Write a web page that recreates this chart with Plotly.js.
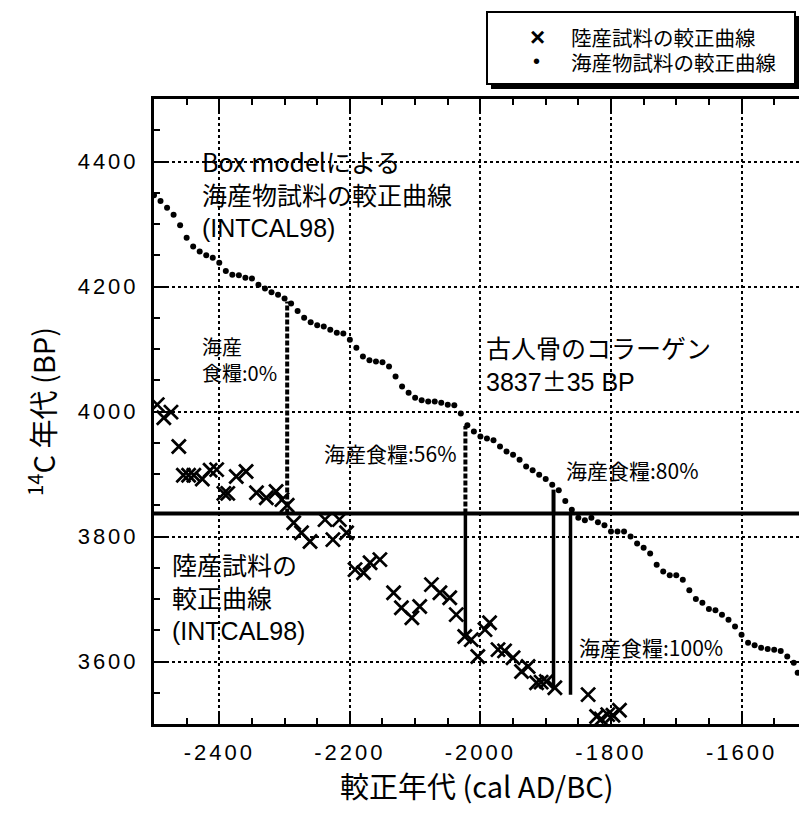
<!DOCTYPE html>
<html>
<head>
<meta charset="utf-8">
<script src="https://cdn.plot.ly/plotly-3.0.1.min.js"></script>
<style>
html,body{margin:0;padding:0;background:#fff;}
#chart{width:799px;height:821px;}
.xtick text,.ytick text{letter-spacing:3px;}
</style>
</head>
<body>
<div id="chart"></div>
<script>
// Marine calibration curve (Box model, INTCAL98) — calibrated year vs 14C age
const marineYear = [-2500,-2490,-2480,-2470,-2460,-2450,-2440,-2430,-2420,-2410,-2400,-2390,-2380,-2370,-2360,-2350,-2340,-2330,-2320,-2310,-2300,-2290,-2280,-2270,-2260,-2250,-2240,-2230,-2220,-2210,-2200,-2190,-2180,-2170,-2160,-2150,-2140,-2130,-2120,-2110,-2100,-2090,-2080,-2070,-2060,-2050,-2040,-2030,-2020,-2010,-2000,-1990,-1980,-1970,-1960,-1950,-1940,-1930,-1920,-1910,-1900,-1890,-1880,-1870,-1860,-1850,-1840,-1830,-1820,-1810,-1800,-1790,-1780,-1770,-1760,-1750,-1740,-1730,-1720,-1710,-1700,-1690,-1680,-1670,-1660,-1650,-1640,-1630,-1620,-1610,-1600,-1590,-1580,-1570,-1560,-1550,-1540,-1530,-1520,-1514];
const marineAge = [4346,4337,4326,4315,4298,4278,4264,4256,4250,4246,4238,4225,4219,4218,4214,4213,4203,4197,4191,4187,4181,4173,4161,4150,4143,4138,4136,4131,4126,4125,4115,4102,4088,4082,4080,4079,4072,4056,4040,4030,4022,4018,4016,4016,4014,4011,4010,3997,3978,3968,3960,3957,3954,3944,3936,3931,3923,3912,3906,3899,3892,3883,3874,3857,3843,3830,3826,3830,3823,3818,3808,3808,3808,3800,3789,3782,3773,3755,3744,3738,3738,3731,3714,3700,3694,3684,3682,3675,3667,3656,3643,3630,3626,3622,3620,3619,3617,3608,3598,3582];

// Terrestrial calibration curve (INTCAL98)
const terrYear = [-2495,-2485,-2474,-2462,-2455,-2447,-2439,-2426,-2414,-2404,-2393,-2387,-2374,-2359,-2343,-2328,-2313,-2304,-2296,-2286,-2274,-2261,-2238,-2226,-2216,-2205,-2192,-2179,-2169,-2154,-2133,-2121,-2105,-2093,-2075,-2062,-2047,-2037,-2024,-2014,-2004,-1993,-1986,-1973,-1963,-1950,-1937,-1927,-1914,-1907,-1899,-1886,-1835,-1822,-1815,-1805,-1797,-1787];
const terrAge = [4011,3990,3999,3944,3898,3898,3898,3892,3906,3907,3869,3869,3896,3904,3870,3862,3872,3859,3850,3822,3806,3792,3827,3795,3827,3806,3747,3742,3758,3763,3710,3686,3670,3688,3723,3710,3702,3675,3640,3635,3608,3651,3662,3619,3617,3606,3584,3592,3566,3567,3568,3558,3547,3512,3508,3515,3514,3522];

// Collagen 14C age of the ancient human bone
const boneAge = 3837;

// Marine-diet fractions: calibrated year, marine-curve top, terrestrial-curve bottom
const dietLabels = ["海産<br>食糧:0%", "海産食糧:56%", "海産食糧:80%", "海産食糧:100%"];
const dietYear   = [-2296, -2023, -1888, -1862];
const dietTop    = [4176, 3977, 3875, 3837];
const dietBottom = [3837, 3640, 3560, 3547];

const xTicks = [-2400,-2200,-2000,-1800,-1600];
const yTicks = [3600,3800,4000,4200,4400];

const legendNames = ["陸産試料の較正曲線", "海産物試料の較正曲線"];
const xTitle = '較正年代 (cal AD/BC)';
const yTitle = '<sup>14</sup>C 年代 (BP)';

const W = 799, H = 821, L = 154, R = 0, T = 99, B = 97;
const pw = W - L - R, ph = H - T - B;
const px = v => (v - L) / pw;
const py = v => (H - B - v) / ph;

const traces = [
  {x: terrYear, y: terrAge, type: 'scatter', mode: 'markers', name: legendNames[0], showlegend: false,
   marker: {symbol: 'x-thin-open', size: 14, color: '#000', line: {width: 2.8, color: '#000'}}},
  {x: marineYear, y: marineAge, type: 'scatter', mode: 'markers', name: legendNames[1], showlegend: false,
   marker: {symbol: 'circle', size: 6, color: '#000'}}
];

const shapes = [];
// horizontal line: bone collagen age
shapes.push({type: 'line', xref: 'paper', yref: 'y', x0: 0, x1: 1, y0: boneAge, y1: boneAge, line: {color: '#000', width: 4}});
// vertical lines
dietYear.forEach((yr, i) => {
  if (dietTop[i] > boneAge) {
    shapes.push({type: 'line', xref: 'x', yref: 'y', x0: yr, x1: yr, y0: boneAge, y1: dietTop[i], line: {color: '#000', width: 4, dash: (i === 2 ? 'solid' : '5px,2px')}});
  }
  if (dietBottom[i] < boneAge) {
    shapes.push({type: 'line', xref: 'x', yref: 'y', x0: yr, x1: yr, y0: dietBottom[i], y1: boneAge, line: {color: '#000', width: 3.5}});
  }
});
// legend box with shadow
shapes.push({type: 'rect', xref: 'paper', yref: 'paper', x0: px(491), x1: px(800), y0: py(89), y1: py(16), fillcolor: '#000', line: {width: 0}, layer: 'above'});
shapes.push({type: 'rect', xref: 'paper', yref: 'paper', x0: px(487), x1: px(795), y0: py(84), y1: py(12), fillcolor: '#fff', line: {color: '#000', width: 2}, layer: 'above'});

const jp = "'Noto Sans CJK JP', 'Noto Sans', sans-serif";
const lat = "'Liberation Sans', Arial, sans-serif";
const ann = (x, y, text, size, extra) => Object.assign({x, y, xref: 'x', yref: 'y', text, showarrow: false, xanchor: 'left', yanchor: 'middle', align: 'left', font: {family: jp, size, color: '#000'}}, extra || {});
const annP = (x, y, text, size, extra) => Object.assign({x: px(x), y: py(y), xref: 'paper', yref: 'paper', text, showarrow: false, xanchor: 'left', yanchor: 'middle', font: {family: jp, size, color: '#000'}}, extra || {});

const annotations = [
  ann(-2430, 4350, 'Box modelによる<br>海産物試料の較正曲線<br><span style="font-family:Liberation Sans">(INTCAL98)</span>', 25),
  ann(-2430, 4084, dietLabels[0], 20),
  ann(-1994, 4104, '古人骨のコラーゲン', 25),
  ann(-1994, 4051, '<span style="font-family:Liberation Sans">3837</span>±<span style="font-family:Liberation Sans">35 BP</span>', 25),
  ann(-2242, 3934, dietLabels[1], 21),
  ann(-1872, 3907, dietLabels[2], 21),
  ann(-1852, 3624, dietLabels[3], 21),
  ann(-2476, 3706, '陸産試料の<br>較正曲線<br><span style="font-family:Liberation Sans">(INTCAL98)</span>', 25),
  // x-axis title
  annP(477, 785, xTitle, 29, {xanchor: 'center'}),
  // legend
  annP(528, 37, '×', 26, {font: {family: lat, size: 26, color: '#000', weight: 'bold'}}),
  annP(531, 61, '•', 20, {font: {family: lat, size: 20, color: '#000'}}),
  annP(569, 37, legendNames[0], 20.5),
  annP(569, 62, legendNames[1], 20.5)
];

const layout = {
  width: W, height: H,
  margin: {l: L, r: R, t: T, b: B, pad: 0},
  paper_bgcolor: '#fff', plot_bgcolor: '#fff',
  showlegend: false,
  xaxis: {
    range: [-2500, -1512], tickvals: xTicks, ticktext: xTicks.map(String),
    showgrid: true, gridcolor: '#000', gridwidth: 2, griddash: 'dot',
    zeroline: false, showline: true, linecolor: '#000', linewidth: 3, mirror: 'ticks',
    ticks: 'inside', ticklen: 12, tickwidth: 2, tickcolor: '#000',
    minor: {dtick: 50, tick0: 0, ticks: 'inside', ticklen: 6, tickwidth: 2, tickcolor: '#000', showgrid: false},
    tickfont: {family: lat, size: 22, color: '#000'},
    ticklabelstandoff: 7
  },
  yaxis: {
    range: [3500, 4500], tickvals: yTicks, ticktext: yTicks.map(String),
    showgrid: true, gridcolor: '#000', gridwidth: 2, griddash: 'dot',
    zeroline: false, showline: true, linecolor: '#000', linewidth: 3, mirror: false,
    ticks: 'inside', ticklen: 12, tickwidth: 2, tickcolor: '#000',
    minor: {dtick: 50, tick0: 0, ticks: 'inside', ticklen: 6, tickwidth: 2, tickcolor: '#000', showgrid: false},
    tickfont: {family: lat, size: 22, color: '#000'},
    ticklabelstandoff: 8,
    title: {text: yTitle, font: {family: jp, size: 29, color: '#000'}, standoff: 14}
  },
  shapes, annotations
};

Plotly.newPlot('chart', traces, layout, {staticPlot: true, displayModeBar: false});
</script>
</body>
</html>
